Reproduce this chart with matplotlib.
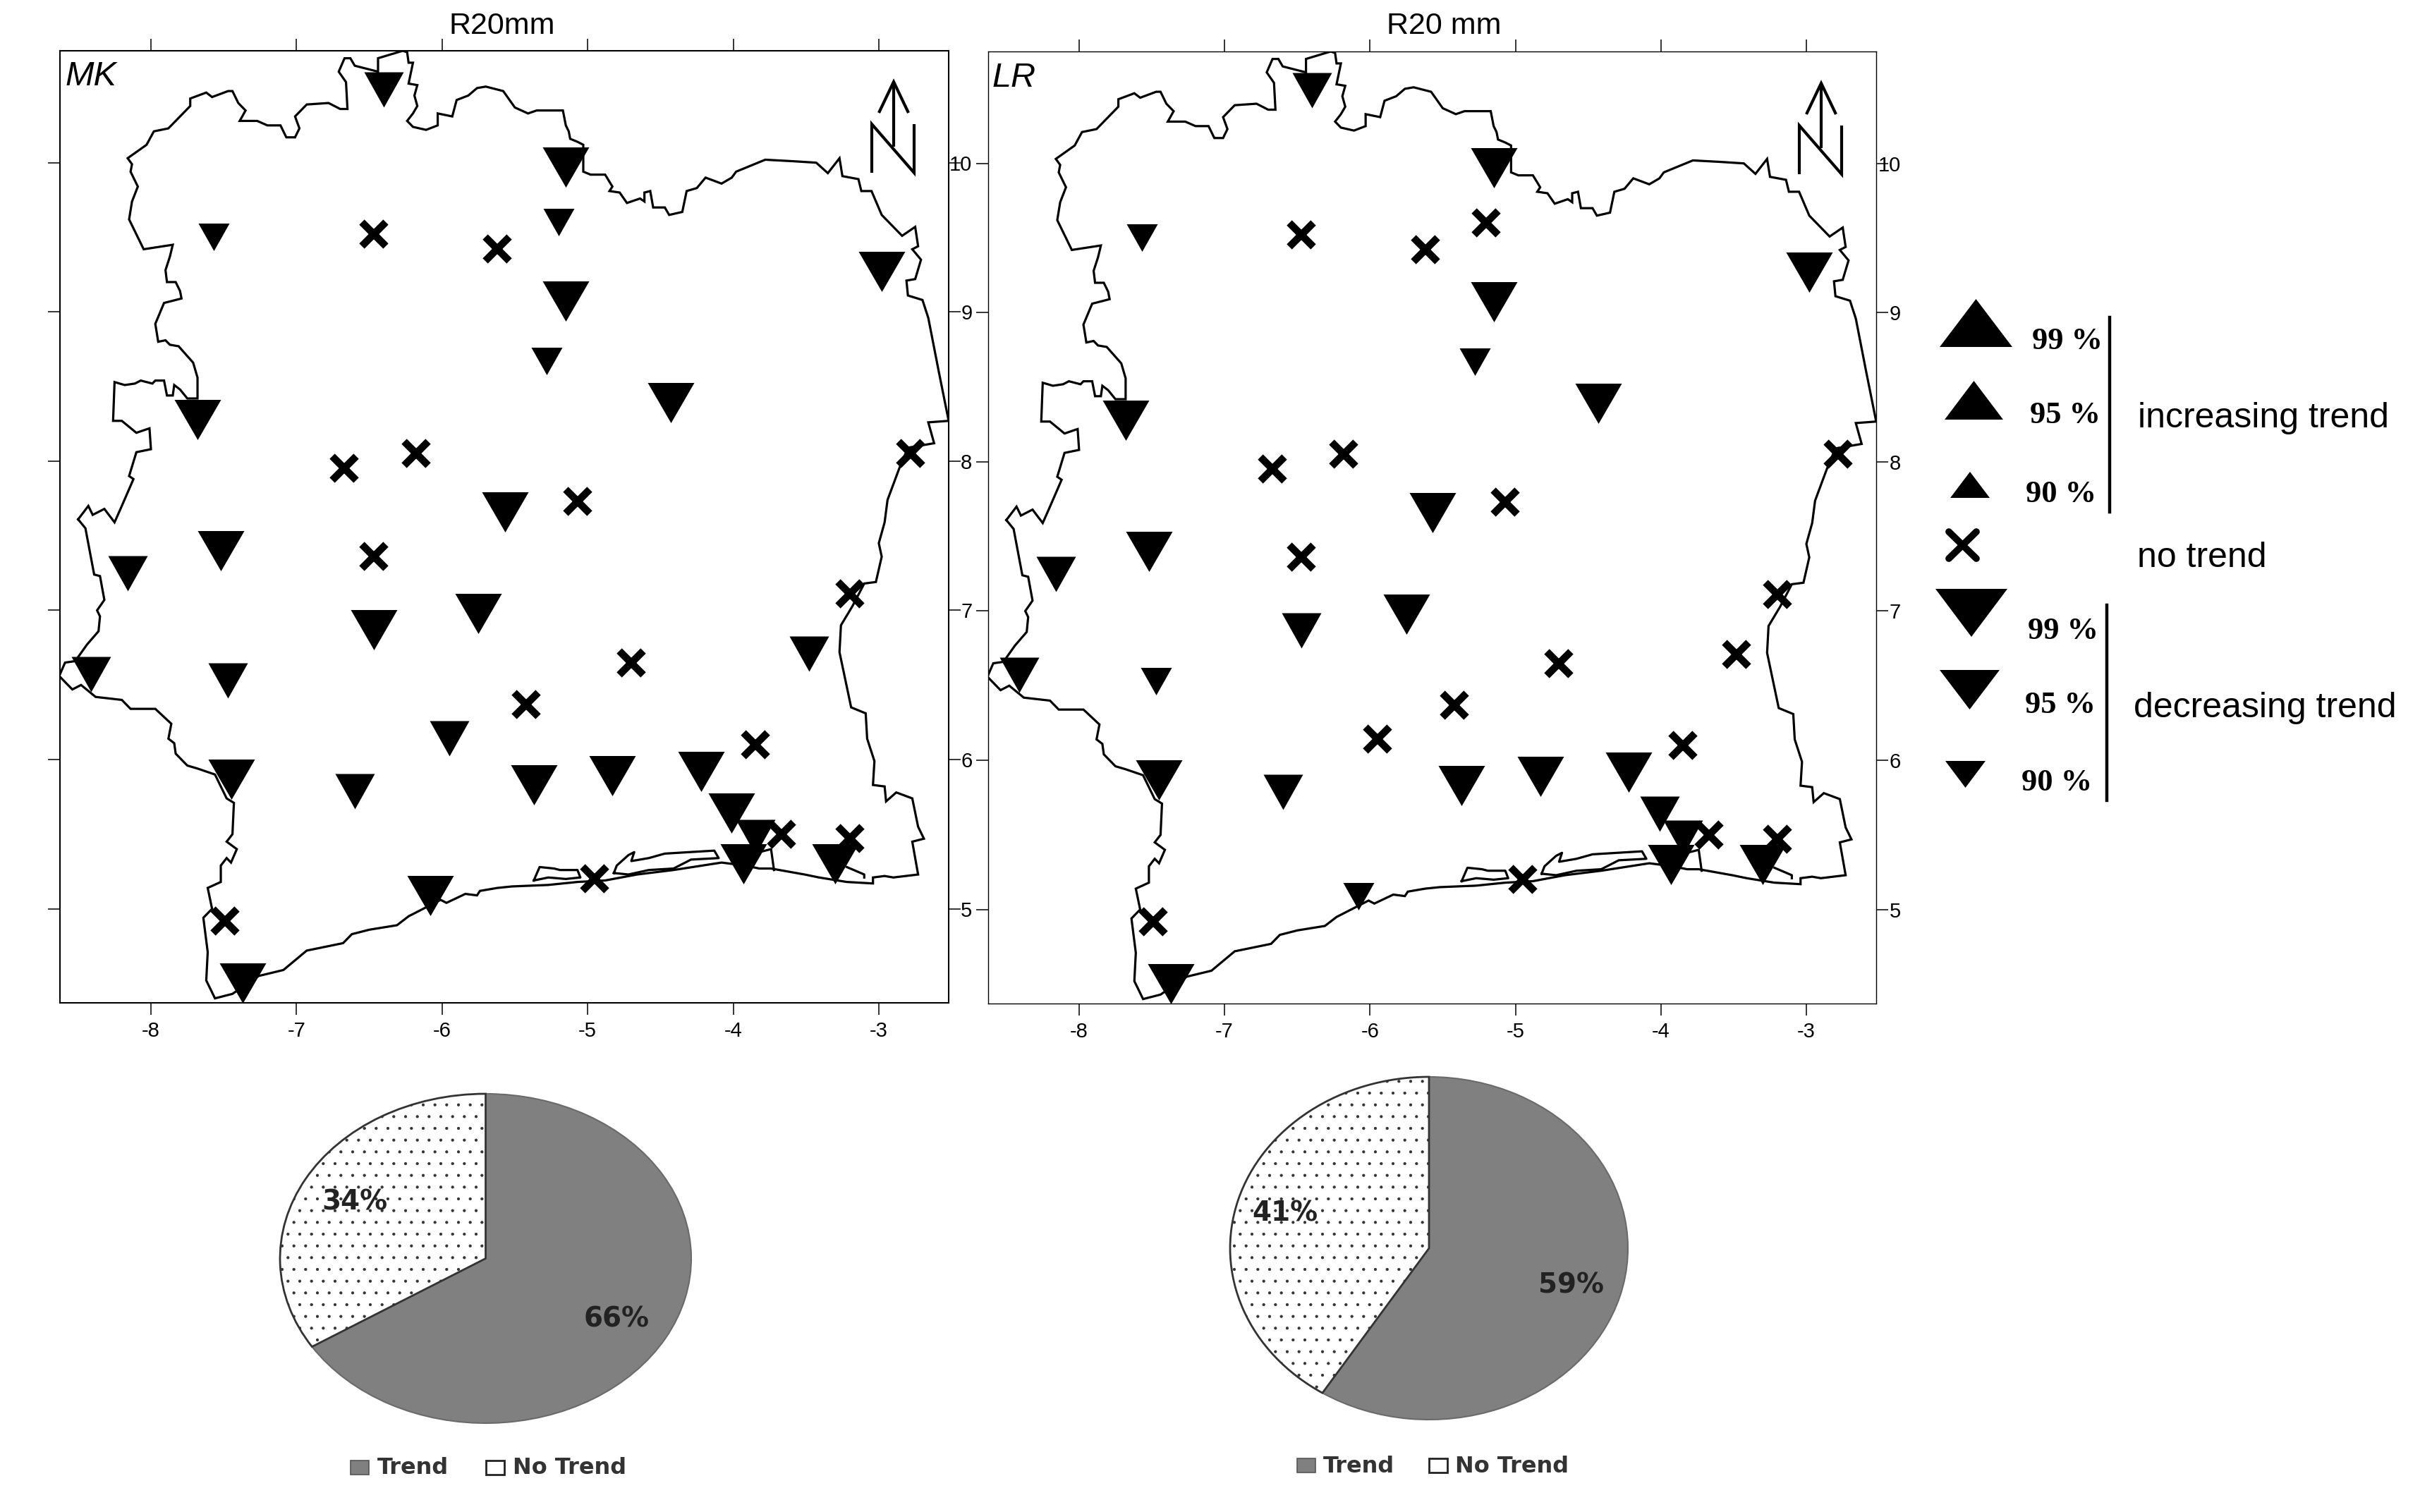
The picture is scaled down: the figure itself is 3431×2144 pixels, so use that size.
"""R20mm trend maps (MK / LR) with pie summaries underneath."""
import matplotlib
matplotlib.use("Agg")
import matplotlib.pyplot as plt
from matplotlib.patches import Polygon, Rectangle

W, H = 3431, 2144
DPI = 100

plt.rcParams["font.family"] = ["Liberation Sans", "DejaVu Sans"]
plt.rcParams["axes.unicode_minus"] = False
plt.rcParams["hatch.linewidth"] = 0.6

OUTLINE_LON = [-8.50, -8.43, -8.40, -8.32, -8.25, -8.20, -8.12, -8.15, -8.10, -8.00, -8.01, -8.10, -8.20, -8.26,
               -8.25, -8.18, -8.11, -8.07, -7.99, -7.97, -7.91, -7.89, -7.85, -7.84, -7.80, -7.75, -7.68, -7.68,
               -7.71, -7.81, -7.87, -7.90, -7.95, -7.97, -7.91, -7.79, -7.80, -7.83, -7.89, -7.90, -7.87, -7.85,
               -8.05, -8.15, -8.13, -8.09, -8.14, -8.13, -8.16, -8.03, -7.98, -7.88, -7.73, -7.73, -7.62, -7.58,
               -7.47, -7.44, -7.40, -7.35, -7.39, -7.27, -7.20, -7.11, -7.07, -7.01, -6.98, -7.01, -6.93, -6.78,
               -6.70, -6.65, -6.66, -6.71, -6.67, -6.63, -6.60, -6.44, -6.44, -6.27, -6.24, -6.23, -6.20, -6.23,
               -6.17, -6.19, -6.17, -6.20, -6.24, -6.20, -6.11, -6.03, -6.03, -5.93, -5.90, -5.82, -5.76, -5.70,
               -5.58, -5.50, -5.41, -5.35, -5.23, -5.17, -5.15, -5.13, -5.12, -5.07, -5.03, -5.03, -4.98, -4.88,
               -4.83, -4.85, -4.78, -4.73, -4.64, -4.61, -4.61, -4.57, -4.55, -4.47, -4.44, -4.35, -4.32, -4.25,
               -4.19, -4.08, -4.01, -3.98, -3.78, -3.59, -3.43, -3.35, -3.27, -3.25, -3.14, -3.12, -3.05, -2.98,
               -2.84, -2.75, -2.73, -2.77, -2.71, -2.75, -2.81, -2.80, -2.70, -2.66, -2.59, -2.52, -2.66, -2.62,
               -2.80, -2.86, -2.94, -2.96, -3.00, -2.98, -3.02, -3.10, -3.18, -3.26, -3.27, -3.19, -3.09, -3.08,
               -3.03, -3.04, -2.96, -2.95, -2.88, -2.77, -2.73, -2.69, -2.77, -2.73, -2.90, -2.96, -3.04, -3.04,
               -3.22, -3.41, -3.51, -3.74, -3.82, -3.92, -4.08, -4.41, -4.66, -4.88, -5.07, -5.27, -5.52, -5.62,
               -5.74, -5.76, -5.84, -5.97, -6.01, -6.11, -6.23, -6.31, -6.50, -6.62, -6.68, -6.93, -7.09, -7.26,
               -7.44, -7.56, -7.62, -7.61, -7.64, -7.58, -7.61, -7.52, -7.52, -7.48, -7.45, -7.41, -7.48, -7.44,
               -7.43, -7.48, -7.56, -7.68, -7.75, -7.83, -7.84, -7.88, -7.86, -7.97, -8.14, -8.20, -8.38, -8.48,
               -8.54, -8.63, -8.59, -8.52, -8.44, -8.36, -8.35, -8.37, -8.32, -8.35, -8.39, -8.45, -8.50]
OUTLINE_LAT = [7.61, 7.70, 7.64, 7.68, 7.59, 7.70, 7.88, 7.90, 8.06, 8.08, 8.22, 8.19, 8.27, 8.27,
               8.53, 8.51, 8.52, 8.54, 8.52, 8.54, 8.54, 8.44, 8.44, 8.51, 8.48, 8.42, 8.42, 8.56,
               8.66, 8.77, 8.78, 8.81, 8.80, 8.92, 9.06, 9.09, 9.14, 9.20, 9.20, 9.28, 9.37, 9.45,
               9.42, 9.62, 9.74, 9.84, 9.94, 9.99, 10.03, 10.12, 10.21, 10.23, 10.38, 10.43, 10.47, 10.44,
               10.48, 10.48, 10.40, 10.35, 10.28, 10.28, 10.25, 10.25, 10.17, 10.17, 10.23, 10.31, 10.39, 10.40,
               10.36, 10.36, 10.54, 10.61, 10.70, 10.70, 10.65, 10.61, 10.70, 10.75, 10.74, 10.67, 10.67, 10.53,
               10.52, 10.45, 10.38, 10.33, 10.28, 10.24, 10.22, 10.25, 10.33, 10.31, 10.42, 10.45, 10.50, 10.51,
               10.48, 10.37, 10.33, 10.35, 10.35, 10.35, 10.25, 10.21, 10.16, 10.14, 10.12, 9.94, 9.92, 9.92,
               9.84, 9.81, 9.80, 9.73, 9.76, 9.74, 9.80, 9.81, 9.70, 9.70, 9.65, 9.67, 9.81, 9.83,
               9.90, 9.86, 9.90, 9.94, 10.02, 10.01, 10.00, 9.93, 10.03, 9.91, 9.89, 9.81, 9.81, 9.65,
               9.51, 9.57, 9.44, 9.42, 9.35, 9.22, 9.21, 9.11, 9.08, 8.96, 8.61, 8.27, 8.26, 8.12,
               8.09, 7.95, 7.74, 7.59, 7.45, 7.36, 7.19, 7.18, 7.03, 6.90, 6.72, 6.35, 6.31, 6.14,
               5.99, 5.83, 5.82, 5.72, 5.78, 5.74, 5.55, 5.47, 5.45, 5.23, 5.21, 5.22, 5.21, 5.17,
               5.18, 5.21, 5.23, 5.27, 5.27, 5.29, 5.31, 5.26, 5.23, 5.19, 5.18, 5.16, 5.15, 5.14,
               5.12, 5.09, 5.10, 5.04, 5.06, 5.01, 4.95, 4.89, 4.86, 4.83, 4.77, 4.72, 4.59, 4.55,
               4.43, 4.40, 4.52, 4.71, 4.94, 5.00, 5.14, 5.18, 5.29, 5.34, 5.31, 5.40, 5.45, 5.50,
               5.71, 5.74, 5.90, 5.94, 5.96, 6.04, 6.11, 6.14, 6.24, 6.34, 6.34, 6.40, 6.42, 6.50,
               6.47, 6.56, 6.65, 6.66, 6.77, 6.86, 6.96, 7.00, 7.07, 7.23, 7.24, 7.55, 7.61]

# lagoons along the south coast
LAGOON_A_LON = [-5.37, -5.33, -5.23, -5.19, -5.07, -5.05, -5.15, -5.27, -5.37]
LAGOON_A_LAT = [5.19, 5.28, 5.27, 5.26, 5.26, 5.21, 5.20, 5.21, 5.19]
LAGOON_B_LON = [-4.82, -4.80, -4.72, -4.68, -4.70, -4.58, -4.47, -4.13, -4.10, -4.29, -4.41, -4.58, -4.72, -4.82]
LAGOON_B_LAT = [5.24, 5.29, 5.36, 5.38, 5.32, 5.34, 5.37, 5.39, 5.34, 5.33, 5.27, 5.26, 5.23, 5.24]
LAGOON_C_LON = [-3.82, -3.74, -3.72]
LAGOON_C_LAT = [5.38, 5.40, 5.26]
LAGOON_D_LON = [-3.22, -3.10, -3.10]
LAGOON_D_LAT = [5.28, 5.23, 5.21]

# stations: 99 / 95 / 90 = significant decrease at that level, 0 = no trend
STATION_LON = [-6.40, -5.15, -5.20, -7.57, -2.98, -5.15, -5.28, -4.43, -7.68, -5.57, -7.52, -8.16, -6.47, -5.75, -3.48,
               -8.41, -7.47, -5.95, -7.45, -6.60, -5.37, -4.83, -4.22, -4.01, -3.85, -3.93, -3.30, -6.08, -7.37,
               -6.47, -5.62, -6.18, -6.67, -5.07, -2.78, -6.47, -3.20, -4.70, -5.42, -3.85, -3.67, -3.20, -4.95, -7.49]
STATION_LAT = [10.49, 9.97, 9.60, 9.50, 9.27, 9.07, 8.67, 8.39, 8.28, 7.66, 7.40, 7.25, 6.87, 6.98, 6.71,
               6.57, 6.53, 6.14, 5.87, 5.79, 5.83, 5.89, 5.92, 5.64, 5.48, 5.30, 5.30, 5.09, 4.50,
               9.52, 9.42, 8.05, 7.95, 7.73, 8.05, 7.36, 7.11, 6.65, 6.37, 6.10, 5.50, 5.47, 5.20, 4.92]
MK_LEVEL = [95, 99, 90, 90, 99, 99, 90, 99, 99, 99, 99, 95, 99, 99, 95,
            95, 95, 95, 99, 95, 99, 99, 99, 99, 95, 99, 99, 99, 99,
            0, 0, 0, 0, 0, 0, 0, 0, 0, 0, 0, 0, 0, 0, 0]
LR_LEVEL = [95, 99, 0, 90, 99, 99, 90, 99, 99, 99, 99, 95, 95, 99, 0,
            95, 90, 0, 99, 95, 99, 99, 99, 95, 95, 99, 99, 90, 99,
            0, 0, 0, 0, 0, 0, 0, 0, 0, 0, 0, 0, 0, 0, 0]

X_TICKS = [-8, -7, -6, -5, -4, -3]
Y_TICKS = [5, 6, 7, 8, 9, 10]
PIE_LABELS = ["Trend", "No Trend"]
MK_PIE = [66, 34]
LR_PIE = [59, 41]

# triangle width, height in px per level
TRI = {99: (66, 57), 95: (56, 50), 90: (44, 39)}
GRAY = "#808080"


def px_axes(fig, l, t, r, b):
    return fig.add_axes([l / W, 1 - b / H, (r - l) / W, (b - t) / H])


def tri_marker(w, h):
    return [(-1, h / w), (1, h / w), (0, -h / w)]


def draw_map(fig, box, levels, lab_right, lw_frame):
    ax = px_axes(fig, *box)
    ax.set_xlim(-8.625, -2.52)
    ax.set_ylim(4.37, 10.75)
    ax.plot(OUTLINE_LON, OUTLINE_LAT, color="k", lw=2.3, solid_joinstyle="miter")
    for lo, la in [(LAGOON_A_LON, LAGOON_A_LAT), (LAGOON_B_LON, LAGOON_B_LAT),
                   (LAGOON_C_LON, LAGOON_C_LAT), (LAGOON_D_LON, LAGOON_D_LAT)]:
        ax.plot(lo, la, color="k", lw=2.3)
    for lv, (w, h) in TRI.items():
        xs = [x for x, l in zip(STATION_LON, levels) if l == lv]
        ys = [y for y, l in zip(STATION_LAT, levels) if l == lv]
        ax.plot(xs, ys, ls="", marker=tri_marker(w, h), ms=w * 0.72, mfc="k", mec="k", mew=0, zorder=4)
    xs = [x for x, l in zip(STATION_LON, levels) if l == 0]
    ys = [y for y, l in zip(STATION_LAT, levels) if l == 0]
    ax.plot(xs, ys, ls="", marker="x", ms=25, mec="k", mew=7.5, zorder=4)

    ax.set_xticks(X_TICKS)
    ax.set_yticks(Y_TICKS)
    ax.tick_params(top=True, right=True, left=True, bottom=True, length=12, width=1.1,
                   labelleft=False, labelright=True, labelsize=21)
    ax.tick_params(axis="x", pad=7)
    ax.tick_params(axis="y", pad=lab_right)
    for t in ax.get_yticklabels():
        t.set_ha("right")
    for s in ax.spines.values():
        s.set_linewidth(lw_frame)
    return ax


def draw_pie(fig, box, values):
    ax = px_axes(fig, *box)
    wedges, _ = ax.pie(values, startangle=90, counterclock=False, colors=[GRAY, "white"], radius=1.0,
                       wedgeprops={"linewidth": 1.5})
    wedges[0].set_edgecolor("#6a6a6a")
    wedges[1].set_edgecolor("#333333")
    wedges[1].set_hatch(".")
    wedges[1].set_linewidth(2.0)
    ax.set_aspect("auto")
    ax.set_xlim(-1.0, 1.0)
    ax.set_ylim(-1.0, 1.0)
    ax.axis("off")
    return ax


def north(ov, cx, top):
    kw = dict(color="k", lw=3.0, solid_capstyle="butt", solid_joinstyle="miter")
    ov.plot([cx, cx], [top + 2, top + 92], **kw)
    ov.plot([cx - 21, cx, cx + 21], [top + 44, top, top + 44], **kw)
    ov.plot([cx - 31, cx - 31, cx + 29, cx + 29], [top + 129, top + 60, top + 129, top + 60], **kw)


def pie_legend(ov, x0, xt0, x1, xt1, top, bot, base):
    ov.add_patch(Rectangle((x0, top), 26, bot - top, fc=GRAY, ec="#555555", lw=1.2))
    ov.add_patch(Rectangle((x1, top), 26, bot - top, fc="white", ec="#222222", lw=2.0))
    ov.text(xt0, base, PIE_LABELS[0], family="DejaVu Sans", weight="bold", fontsize=23, color="#333333", va="baseline")
    ov.text(xt1, base, PIE_LABELS[1], family="DejaVu Sans", weight="bold", fontsize=23, color="#333333", va="baseline")


fig = plt.figure(figsize=(W / DPI, H / DPI), dpi=DPI, facecolor="white")

draw_map(fig, (85, 72, 1345, 1422), MK_LEVEL, 12, 1.5)
draw_map(fig, (1401, 73, 2660, 1423), LR_LEVEL, 13, 1.0)
draw_pie(fig, (397, 1551, 980, 2018), MK_PIE)
draw_pie(fig, (1744, 1527, 2308, 2013), LR_PIE)

# everything else goes on a full-figure overlay in pixel coordinates
ov = fig.add_axes([0, 0, 1, 1], zorder=10)
ov.set_xlim(0, W)
ov.set_ylim(H, 0)
ov.axis("off")

ov.text(712, 48, "R20mm", fontsize=31, ha="center", va="baseline")
ov.text(2047, 48, "R20 mm", fontsize=31, ha="center", va="baseline")
ov.text(92, 121, "MK", fontsize=35, style="italic", va="baseline")
ov.text(1407, 123, "LR", fontsize=35, style="italic", va="baseline")
north(ov, 1267, 116)
north(ov, 2582, 118)

# pie percentages
for x, y, s in [(503, 1705, "34%"), (874, 1870, "66%"), (1822, 1720, "41%"), (2228, 1823, "59%")]:
    ov.text(x, y, s, family="DejaVu Sans", weight="bold", fontsize=28, color="#222222", ha="center", va="center")
pie_legend(ov, 497, 535, 689, 727, 2071, 2091, 2090)
pie_legend(ov, 1839, 1876, 2026, 2063, 2068, 2088, 2088)

# significance key
for xl, xr, yb, yt in [(2750, 2853, 492, 424), (2757, 2840, 595, 540), (2765, 2821, 706, 669)]:
    ov.add_patch(Polygon([(xl, yb), (xr, yb), ((xl + xr) / 2, yt)], fc="k", ec="none"))
for xl, xr, yt, yb in [(2744, 2846, 835, 903), (2750, 2835, 950, 1006), (2758, 2815, 1079, 1117)]:
    ov.add_patch(Polygon([(xl, yt), (xr, yt), ((xl + xr) / 2, yb)], fc="k", ec="none"))
ov.plot([2763, 2802], [754, 792], color="k", lw=7, solid_capstyle="round")
ov.plot([2763, 2802], [792, 754], color="k", lw=7, solid_capstyle="round")
for x, y, s in [(2881, 495, "99 %"), (2878, 600, "95 %"), (2872, 712, "90 %"),
                (2875, 906, "99 %"), (2871, 1011, "95 %"), (2866, 1121, "90 %")]:
    ov.text(x, y, s, family="Liberation Serif", weight="bold", fontsize=32, va="baseline")
ov.plot([2991, 2991], [450, 726], color="k", lw=3.2)
ov.plot([2987, 2987], [858, 1135], color="k", lw=3.2)
ov.text(3031, 606, "increasing trend", fontsize=36, va="baseline")
ov.text(3030, 804, "no trend", fontsize=36, va="baseline")
ov.text(3025, 1017, "decreasing trend", fontsize=36, va="baseline")

fig.savefig("out.png", dpi=DPI)
plt.close(fig)
